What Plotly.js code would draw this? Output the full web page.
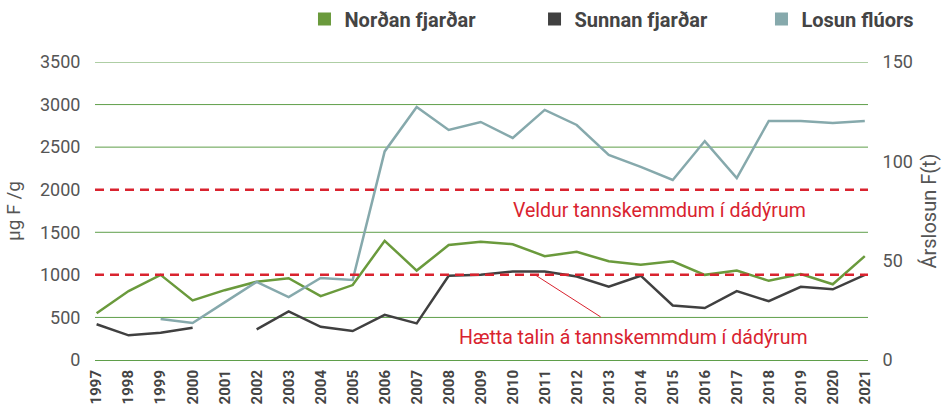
<!DOCTYPE html>
<html><head><meta charset="utf-8">
<script src="https://cdn.plot.ly/plotly-3.0.1.min.js"></script>
<style>html,body{margin:0;padding:0;background:#fff}#c{width:950px;height:409px}</style>
</head><body><div id="c"></div>
<script>
const years = [1997,1998,1999,2000,2001,2002,2003,2004,2005,2006,2007,2008,2009,2010,2011,2012,2013,2014,2015,2016,2017,2018,2019,2020,2021];
const nordan = [550,810,1000,700,820,920,960,750,880,1400,1050,1350,1390,1360,1220,1270,1160,1120,1160,1000,1050,930,1010,890,1220];
const sunnan = [420,290,320,380,null,360,570,390,340,530,430,990,1000,1040,1040,980,860,990,640,610,810,690,860,830,1000];
const losun  = [null,null,20.6,18.6,29,39.3,31.7,41.3,40.3,105,127.4,115.8,119.8,111.8,125.9,118.3,103.2,97.2,90.6,110.2,91.6,120.3,120.3,119.3,120.3];
const seriesNames = ['Norðan fjarðar','Sunnan fjarðar','Losun flúors'];
const colors = ['#6a9a3c','#404040','#86a9ac'];
const leftTicks = [0,500,1000,1500,2000,2500,3000,3500];
const rightTicks = [0,50,100,150];
const thresholds = [1000,2000];
const thresholdLabels = ['Hætta talin á tannskemmdum í dádýrum','Veldur tannskemmdum í dádýrum'];

const FONT = 'Roboto, "DejaVu Sans", sans-serif';
const legendIds = ['legend','legend2','legend3'];
const legendX = [0.271, 0.5686, 0.8622];
const data = [
  {x: years, y: nordan, mode:'lines', line:{color:colors[0], width:2.5}, showlegend:false},
  {x: years, y: sunnan, mode:'lines', line:{color:colors[1], width:2.5}, showlegend:false, connectgaps:false},
  {x: years, y: losun, mode:'lines', line:{color:colors[2], width:2.5}, yaxis:'y2', showlegend:false},
];
seriesNames.forEach((n,i)=>data.push({x:[null], y:[null], name:n, mode:'markers', legend:legendIds[i],
  marker:{symbol:'square', size:13, color:colors[i]}, showlegend:true}));

const shapes = [];
[500,1500,2500,3000,3500].forEach(v=>shapes.push({type:'line', xref:'paper', x0:0, x1:1, yref:'y', y0:v, y1:v, line:{color:'#5f9e4a', width:1}, layer:'below'}));
thresholds.forEach(v=>shapes.push({type:'line', xref:'paper', x0:0, x1:1, yref:'y', y0:v, y1:v, line:{color:'#d9232f', width:2.5, dash:'9px,6px'}, layer:'above'}));

const layout = {
  width:950, height:409,
  margin:{l:95, r:82, t:62, b:49, autoexpand:false},
  paper_bgcolor:'#fff', plot_bgcolor:'#fff',
  font:{family:FONT, color:'#555'},
  showlegend:true,
  xaxis:{range:[1996.95, 2021.1], tickvals:years, ticktext:years.map(String), tickangle:-90, showgrid:false, zeroline:false,
         showline:true, linecolor:'#5f9e4a', linewidth:1, ticks:'outside', ticklen:3, tickcolor:'rgba(0,0,0,0)',
         tickfont:{size:15, color:'#444', weight:'bold', family:FONT}},
  yaxis:{range:[0,3500], tickvals:leftTicks, showgrid:false, zeroline:false, ticks:'outside', ticklen:10, tickcolor:'rgba(0,0,0,0)',
         tickfont:{size:18, color:'#555'}, title:{text:'µg F /g', font:{size:19, color:'#555'}, standoff:14}},
  yaxis2:{range:[0,150], tickvals:rightTicks, overlaying:'y', side:'right', showgrid:false, zeroline:false, ticks:'outside', ticklen:10, tickcolor:'rgba(0,0,0,0)',
         tickfont:{size:18, color:'#555'}, title:{text:'Árslosun F(t)', font:{size:20, color:'#555'}, standoff:10}},
  shapes: shapes,
  annotations:[
    {xref:'x', yref:'y', x:2014.6, y:1751, text:thresholdLabels[1], showarrow:false, font:{size:19.5, color:'#d9232f', family:FONT}},
    {xref:'x', yref:'y', x:2010.7, y:1000, ax:67, ay:43, text:'', showarrow:true, arrowhead:0, arrowwidth:1, arrowcolor:'#d9232f', standoff:0, startstandoff:0},
    {xref:'x', yref:'y', x:2013.76, y:270, text:thresholdLabels[0], showarrow:false, font:{size:19.5, color:'#d9232f', family:FONT}}
  ]
};
legendIds.forEach((id,i)=>{
  layout[id] = {orientation:'h', x:legendX[i], xanchor:'left', y:1.144, yanchor:'middle',
    font:{family:FONT, size:20, color:'#444', weight:'bold'}, borderwidth:0, bgcolor:'rgba(0,0,0,0)'};
});
Plotly.newPlot('c', data, layout, {staticPlot:true, displayModeBar:false});
</script></body></html>
